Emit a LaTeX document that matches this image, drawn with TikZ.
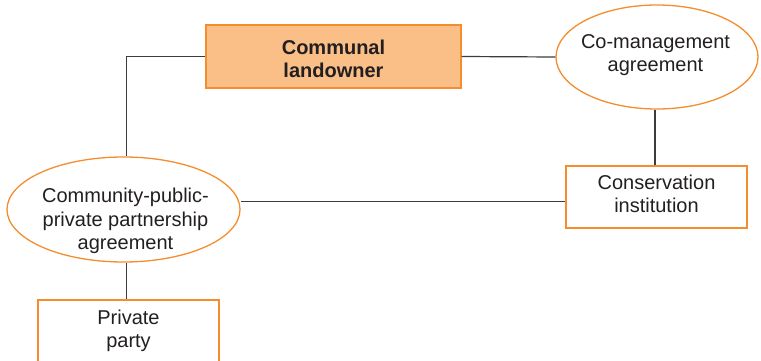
\documentclass[tikz,border=0pt]{standalone}
\usepackage{fontspec}
\setmainfont{Liberation Sans}
\usetikzlibrary{shapes.geometric}
\definecolor{orstroke}{RGB}{245,140,45}
\definecolor{orfill}{RGB}{250,190,135}
\definecolor{txt}{RGB}{35,31,32}
\definecolor{ln}{RGB}{60,60,60}
\tikzset{
  lbl/.style={font=\fontsize{20}{23.4}\selectfont, text=txt, align=center, inner sep=0pt},
  boxnode/.style={draw=orstroke, line width=1.3pt, rectangle, inner sep=0pt},
  ellnode/.style={draw=orstroke, line width=1.3pt, ellipse, inner sep=0pt},
  conn/.style={draw=ln, line width=1.2pt}
}
\begin{document}
\begin{tikzpicture}[x=1pt,y=-1pt]
\useasboundingbox (0,0) rectangle (761,361);
% shapes
\node[boxnode, fill=orfill, minimum width=255pt, minimum height=63pt] (land) at (333.5,56.5) {};
\node[ellnode, minimum width=202pt, minimum height=104pt] (coman) at (657,57) {};
\node[boxnode, minimum width=181pt, minimum height=62pt] (cons) at (656.5,197) {};
\node[ellnode, minimum width=233pt, minimum height=105pt] (cppp) at (123.5,209.5) {};
\node[boxnode, minimum width=181pt, minimum height=62pt] (priv) at (128.5,331) {};
% texts
\node[lbl] (landT) at (333.5,58.6) {\bfseries Communal\\\bfseries landowner};
\node[lbl] (comanT) at (655.5,54.9) {Co-management\\agreement};
\node[lbl] (consT) at (656.5,194) {Conservation\\institution};
\node[lbl] (cpppT) at (125.5,220.9) {Community-public-\\private partnership\\agreement};
\node[lbl] (privT) at (128.5,330.9) {Private\\party};
% connectors
\coordinate (cpppTop) at ([xshift=3.3pt]cppp.north);
\coordinate (cpppBot) at ([xshift=3.3pt]cppp.south);
\coordinate (corner) at (cpppTop |- land.west);
\draw[conn] (land.west) -- (corner) -- (cpppTop);
\draw[conn] (land.east) -- (coman.west);
\draw[conn] ([xshift=-2pt]coman.south) -- ([xshift=-2pt]coman.south |- cons.north);
\draw[conn] ([yshift=-4.7pt]cons.west) -- ([yshift=-4.7pt]cons.west -| cppp.east);
\draw[conn] (cpppBot) -- (cpppBot |- priv.north);
\end{tikzpicture}
\end{document}
